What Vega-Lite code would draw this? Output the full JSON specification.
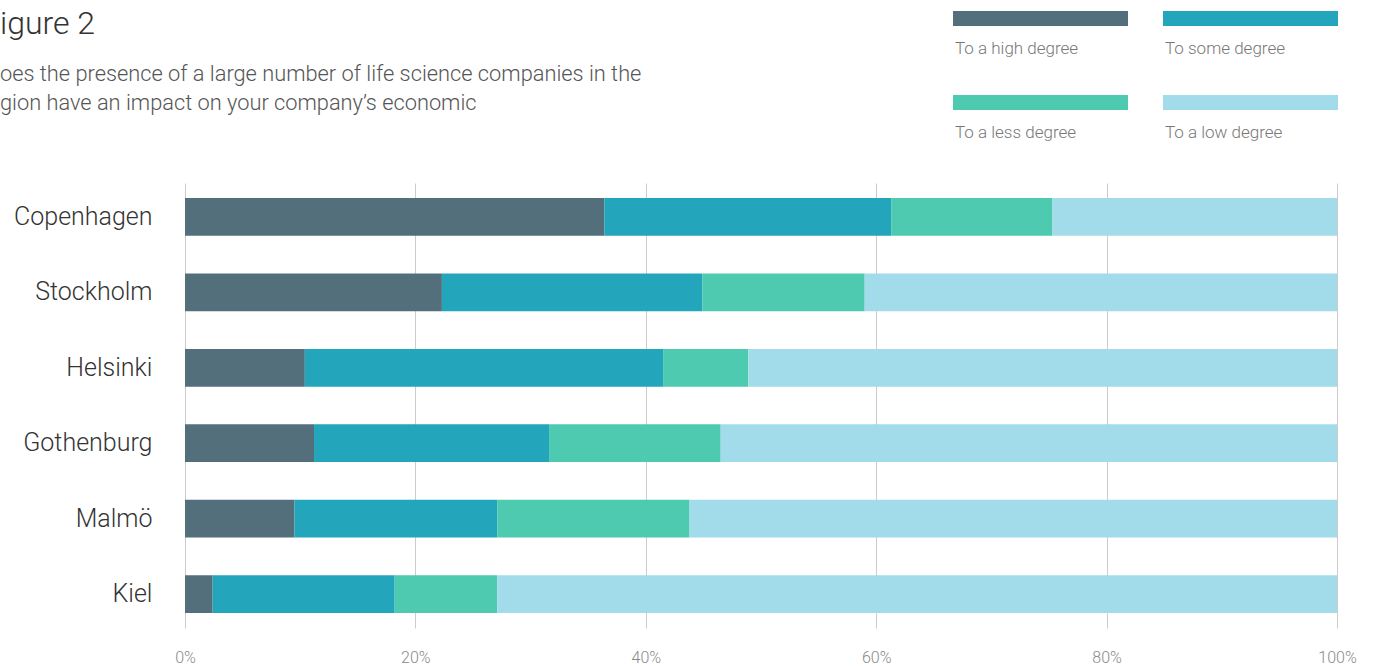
{
  "$schema": "https://vega.github.io/schema/vega-lite/v6.json",
  "width": 1152,
  "height": 445,
  "autosize": {"type": "none"},
  "padding": {"left": 185, "top": 183, "right": 36, "bottom": 38},
  "background": "white",
  "title": {
    "text": "igure 2",
    "subtitle": ["oes the presence of a large number of life science companies in the", "gion have an impact on your company’s economic"],
    "anchor": "start",
    "frame": "group",
    "dx": -185,
    "dy": 86,
    "font": "Roboto",
    "fontWeight": 300,
    "fontSize": 32,
    "color": "#333333",
    "subtitleFont": "Roboto",
    "subtitleFontWeight": 300,
    "subtitleFontSize": 21.8,
    "subtitleColor": "#555555",
    "subtitleLineHeight": 29,
    "subtitlePadding": 23
  },
  "data": {
    "values": [
      {"city": "Copenhagen", "degree": "To a high degree", "rank": 1, "pct": 36.4},
      {"city": "Copenhagen", "degree": "To some degree", "rank": 2, "pct": 24.9},
      {"city": "Copenhagen", "degree": "To a less degree", "rank": 3, "pct": 14.0},
      {"city": "Copenhagen", "degree": "To a low degree", "rank": 4, "pct": 24.7},
      {"city": "Stockholm", "degree": "To a high degree", "rank": 1, "pct": 22.3},
      {"city": "Stockholm", "degree": "To some degree", "rank": 2, "pct": 22.6},
      {"city": "Stockholm", "degree": "To a less degree", "rank": 3, "pct": 14.1},
      {"city": "Stockholm", "degree": "To a low degree", "rank": 4, "pct": 41.0},
      {"city": "Helsinki", "degree": "To a high degree", "rank": 1, "pct": 10.4},
      {"city": "Helsinki", "degree": "To some degree", "rank": 2, "pct": 31.1},
      {"city": "Helsinki", "degree": "To a less degree", "rank": 3, "pct": 7.4},
      {"city": "Helsinki", "degree": "To a low degree", "rank": 4, "pct": 51.1},
      {"city": "Gothenburg", "degree": "To a high degree", "rank": 1, "pct": 11.2},
      {"city": "Gothenburg", "degree": "To some degree", "rank": 2, "pct": 20.4},
      {"city": "Gothenburg", "degree": "To a less degree", "rank": 3, "pct": 14.9},
      {"city": "Gothenburg", "degree": "To a low degree", "rank": 4, "pct": 53.5},
      {"city": "Malmö", "degree": "To a high degree", "rank": 1, "pct": 9.5},
      {"city": "Malmö", "degree": "To some degree", "rank": 2, "pct": 17.6},
      {"city": "Malmö", "degree": "To a less degree", "rank": 3, "pct": 16.7},
      {"city": "Malmö", "degree": "To a low degree", "rank": 4, "pct": 56.2},
      {"city": "Kiel", "degree": "To a high degree", "rank": 1, "pct": 2.4},
      {"city": "Kiel", "degree": "To some degree", "rank": 2, "pct": 15.8},
      {"city": "Kiel", "degree": "To a less degree", "rank": 3, "pct": 8.9},
      {"city": "Kiel", "degree": "To a low degree", "rank": 4, "pct": 72.9}
    ]
  },
  "mark": {"type": "bar"},
  "encoding": {
    "y": {
      "field": "city",
      "type": "nominal",
      "sort": ["Copenhagen", "Stockholm", "Helsinki", "Gothenburg", "Malmö", "Kiel"],
      "scale": {"paddingInner": 0.5, "paddingOuter": 0.2},
      "axis": {
        "title": null,
        "ticks": false,
        "domain": false,
        "labelFont": "Roboto",
        "labelFontWeight": 300,
        "labelFontSize": 25,
        "labelColor": "#333333",
        "labelPadding": 33
      }
    },
    "x": {
      "field": "pct",
      "type": "quantitative",
      "stack": "normalize",
      "scale": {"domain": [0, 1], "nice": false},
      "axis": {
        "title": null,
        "values": [0, 0.2, 0.4, 0.6, 0.8, 1],
        "format": ".0%",
        "ticks": false,
        "domain": false,
        "grid": true,
        "gridColor": "#cccccc",
        "gridWidth": 1,
        "labelFont": "Roboto",
        "labelFontWeight": 300,
        "labelFontSize": 16,
        "labelColor": "#8a8a8a",
        "labelPadding": 21,
        "labelFlush": false
      }
    },
    "color": {
      "field": "degree",
      "type": "nominal",
      "sort": ["To a high degree", "To some degree", "To a less degree", "To a low degree"],
      "scale": {
        "domain": ["To a high degree", "To some degree", "To a less degree", "To a low degree"],
        "range": ["#536f7c", "#23a5bb", "#4ecab1", "#a2dcea"]
      },
      "legend": {
        "title": null,
        "orient": "none",
        "direction": "horizontal",
        "legendX": 768,
        "legendY": -149,
        "columns": 2,
        "symbolType": "M-1,-2.533H10.667V-1.533H-1Z",
        "symbolSize": 900,
        "symbolStrokeWidth": 0,
        "symbolOpacity": 1,
        "labelOffset": -28,
        "labelFont": "Roboto",
        "labelFontWeight": 300,
        "labelFontSize": 17,
        "labelColor": "#777777",
        "labelBaseline": "middle",
        "columnPadding": 34,
        "rowPadding": 38
      }
    },
    "order": {"field": "rank", "type": "quantitative"}
  },
  "config": {"view": {"stroke": null}}
}
